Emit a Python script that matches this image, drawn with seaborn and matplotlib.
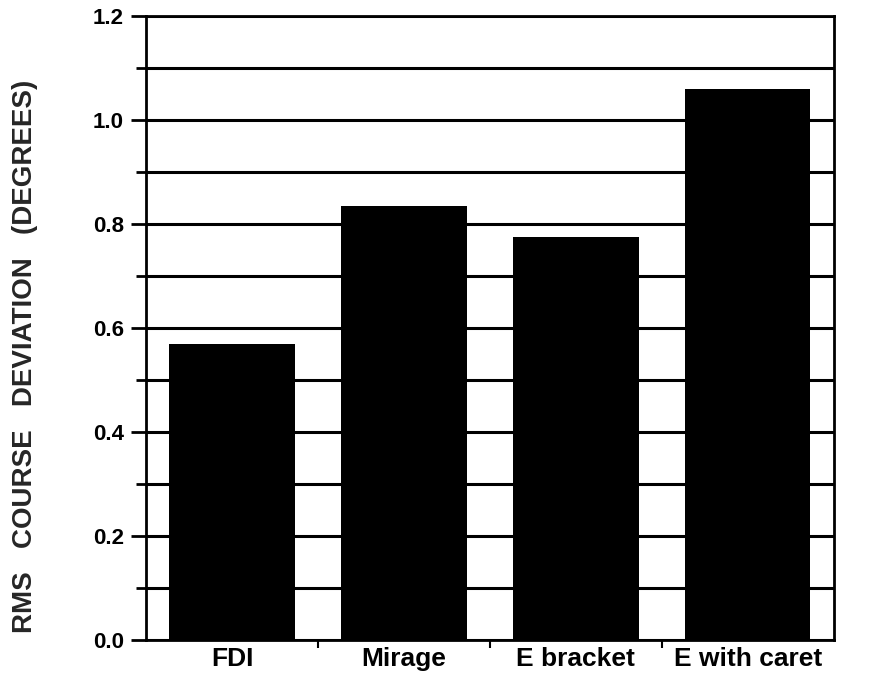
import seaborn as sns
import matplotlib.pyplot as plt
from matplotlib.ticker import MultipleLocator, FixedLocator

# data
displays = ['FDI', 'Mirage', 'E bracket', 'E with caret']
rms_deviation = [0.57, 0.835, 0.775, 1.06]

sns.set_style('white')
plt.rcParams['font.family'] = ['Liberation Sans', 'DejaVu Sans']
plt.rcParams['font.weight'] = 'bold'

fig = plt.figure(figsize=(8.85, 6.77), dpi=100)
ax = fig.add_axes([0.165, 0.0547, 0.777, 0.9216])

# horizontal rules every 0.1 behind the bars
ax.yaxis.set_major_locator(MultipleLocator(0.2))
ax.yaxis.set_minor_locator(MultipleLocator(0.1))
ax.grid(True, axis='y', which='both', color='black', linewidth=2.2, zorder=0)
ax.set_axisbelow(True)

sns.barplot(x=displays, y=rms_deviation, color='black', saturation=1,
            width=0.73, edgecolor='black', linewidth=0, zorder=3, ax=ax)

ax.set_ylim(0, 1.2)
ax.set_xlim(-0.5, len(displays) - 0.5)
ax.set_yticks([0.0, 0.2, 0.4, 0.6, 0.8, 1.0, 1.2])
ax.set_yticklabels(['0.0', '0.2', '0.4', '0.6', '0.8', '1.0', '1.2'])
ax.yaxis.set_minor_locator(MultipleLocator(0.1))
ax.xaxis.set_minor_locator(FixedLocator([0.5, 1.5, 2.5]))

for s in ax.spines.values():
    s.set_visible(True)
    s.set_color('black')
    s.set_linewidth(2)

ax.tick_params(axis='y', which='both', left=True)
ax.tick_params(axis='x', which='both', bottom=True)
ax.tick_params(axis='y', which='major', direction='out', length=11, width=2,
               labelsize=16, pad=5, colors='black')
ax.tick_params(axis='y', which='minor', direction='out', length=7, width=2,
               colors='black')
ax.tick_params(axis='x', which='major', length=0, labelsize=19, pad=5,
               colors='black')
ax.tick_params(axis='x', which='minor', direction='out', length=6, width=1.5,
               colors='black')

for lab in ax.get_xticklabels() + ax.get_yticklabels():
    lab.set_fontweight('bold')

ax.set_xlabel('')
ax.set_ylabel('RMS   COURSE   DEVIATION   (DEGREES)', fontsize=20,
              fontweight='bold')
ax.yaxis.set_label_coords(-0.157, 0.454)

fig.savefig('out.png', dpi=100)
